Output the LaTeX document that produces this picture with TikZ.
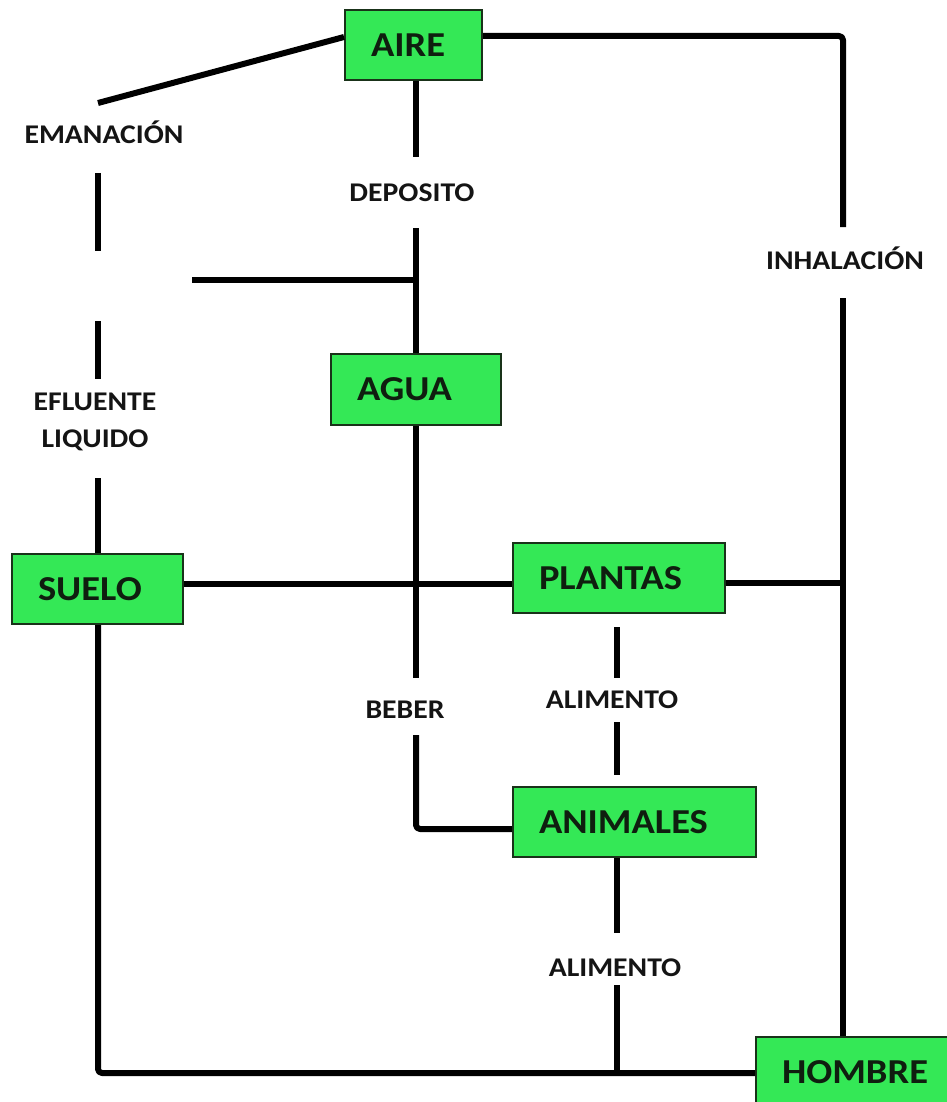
\documentclass[tikz,border=0pt]{standalone}
\usepackage{fontspec}
\setmainfont{Carlito}[FakeStretch=1.1]
\definecolor{boxgreen}{RGB}{52,232,86}
\definecolor{boxline}{RGB}{25,50,25}
\definecolor{boxtext}{RGB}{15,30,15}
\definecolor{labeltext}{RGB}{20,20,20}
\begin{document}
\begin{tikzpicture}[x=1pt,y=-1pt,
  box/.style={draw=boxline, fill=boxgreen, line width=2pt, minimum height=70pt,
    inner xsep=26pt, inner ysep=0pt, align=left,
    font=\fontsize{35}{40}\selectfont\bfseries, text=boxtext},
  lbl/.style={inner sep=0pt, font=\fontsize{27}{37}\selectfont\bfseries, text=labeltext, align=center},
  conn/.style={line width=6pt, black, line join=round}]
\useasboundingbox[fill=white] (0,0) rectangle (946,1102);
% boxes
\node[box, text width=85pt]  (aire)     at (413.5,45)  {AIRE};
\node[box, text width=118pt, minimum height=71pt] (agua) at (416,389.5) {AGUA};
\node[box, text width=119pt] (suelo)    at (97.5,589)  {SUELO};
\node[box, text width=160pt] (plantas)  at (619,578)   {PLANTAS};
\node[box, text width=191pt] (animales) at (634.5,822) {ANIMALES};
\node[box, text width=152pt] (hombre)   at (858,1072)  {HOMBRE};
% labels
\node[lbl, anchor=base] (ema) at (104,144) {EMANACIÓN};
\node[lbl, anchor=base] (dep) at (412,201) {DEPOSITO};
\node[lbl, anchor=base] (inh) at (845,269) {INHALACIÓN};
\node[lbl] (efl) at (95,422) {EFLUENTE\\LIQUIDO};
\node[lbl, anchor=base] (beb) at (405,718) {BEBER};
\node[lbl, anchor=base] (ali1) at (612,708) {ALIMENTO};
\node[lbl, anchor=base] (ali2) at (615,976) {ALIMENTO};
% coordinates
\coordinate (e0) at (0,37);
\coordinate (e1) at (98,103);
\coordinate (em1) at (98,173);
\coordinate (em2) at (98,251);
\coordinate (em3) at (98,321);
\coordinate (em4) at (98,379);
\coordinate (em5) at (98,478);
\coordinate (h1) at (192,280);
\coordinate (hj) at (416,280);
\coordinate (d1) at (416,157);
\coordinate (d2) at (416,228);
\coordinate (i1) at (843,36);
\coordinate (i2) at (843,227);
\coordinate (i3) at (843,298);
\coordinate (b1) at (416,678);
\coordinate (b2) at (416,735);
\coordinate (b3) at (416,829);
\coordinate (s1) at (0,584);
\coordinate (pj) at (843,583);
\coordinate (p1) at (617,627);
\coordinate (p2) at (617,678);
\coordinate (p3) at (617,722);
\coordinate (p4) at (617,775);
\coordinate (a1) at (617,933);
\coordinate (a2) at (617,985);
\coordinate (a3) at (617,1073);
\coordinate (c0) at (98,1073);
% connectors
\draw[conn] (aire.west |- e0) -- (e1);
\draw[conn] (em1) -- (em2);
\draw[conn] (em3) -- (em4);
\draw[conn] (em5) -- (suelo.north -| em5);
\draw[conn] (h1) -- (hj);
\draw[conn] (aire.south -| d1) -- (d1);
\draw[conn] (d2) -- (agua.north -| d2);
\draw[conn, rounded corners=4pt] (aire.east |- i1) -- (i1) -- (i2);
\draw[conn] (i3) -- (hombre.north -| i3);
\draw[conn] (agua.south -| b1) -- (b1);
\draw[conn, rounded corners=4pt] (b2) -- (b3) -- (animales.west |- b3);
\draw[conn] (suelo.east |- s1) -- (plantas.west |- s1);
\draw[conn] (plantas.east |- pj) -- (pj);
\draw[conn] (p1) -- (p2);
\draw[conn] (p3) -- (p4);
\draw[conn] (animales.south -| a1) -- (a1);
\draw[conn] (a2) -- (a3);
\draw[conn, rounded corners=4pt] (suelo.south -| c0) -- (c0) -- (hombre.west |- c0);
\end{tikzpicture}
\end{document}
